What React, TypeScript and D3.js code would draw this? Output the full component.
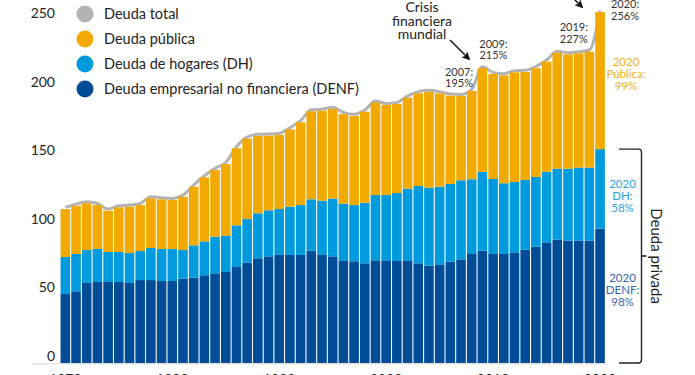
import React from "react";
import * as d3 from "d3";

const years: number[] = d3.range(1970, 2021);

// Deuda empresarial no financiera (DENF), % del PIB
const denf: number[] = [
  50.3, 52.3, 58.4, 59.1, 59.1, 59.1, 58.4, 60.5, 60.5, 59.8,
  59.8, 61.5, 62.2, 64.0, 65.4, 66.4, 70.0, 73.2, 76.4, 77.8,
  78.8, 78.8, 78.8, 81.9, 78.8, 77.8, 74.9, 74.2, 72.7, 74.9,
  74.9, 74.4, 74.4, 72.7, 71.0, 71.5, 73.9, 75.6, 79.5, 81.9,
  79.5, 79.5, 80.7, 82.6, 84.8, 88.0, 89.9, 89.2, 89.2, 89.2,
  98,
];
// Deuda de hogares (DH)
const dh: number[] = [
  27.0, 27.2, 24.0, 24.1, 21.9, 21.9, 21.8, 21.2, 23.4, 23.4,
  23.4, 20.9, 23.6, 24.7, 26.7, 26.5, 30.4, 31.8, 32.8, 33.6,
  33.5, 35.2, 36.4, 37.5, 39.6, 42.1, 41.3, 41.0, 44.2, 47.6,
  47.6, 49.6, 52.7, 56.4, 56.9, 57.1, 56.7, 57.7, 54.5, 57.6,
  54.7, 51.6, 51.3, 50.9, 50.9, 51.5, 51.8, 52.5, 53.3, 53.3,
  58,
];
// Deuda pública
const publica: number[] = [
  35.0, 35.2, 34.1, 32.0, 30.1, 32.5, 33.8, 33.5, 36.2, 36.2,
  35.7, 38.9, 42.8, 46.7, 48.7, 52.2, 56.2, 58.6, 56.4, 54.4,
  54.0, 56.4, 60.4, 64.2, 65.6, 65.4, 65.4, 65.0, 66.4, 67.4,
  65.7, 64.9, 66.4, 67.6, 69.8, 68.1, 64.4, 61.4, 64.4, 75.5,
  76.6, 78.7, 80.0, 78.8, 79.3, 80.3, 84.6, 83.5, 83.4, 84.6,
  100,
];

const yTicks: number[] = [0, 50, 100, 150, 200, 250];
const xTicks: number[] = [1970, 1980, 1990, 2000, 2010, 2020];

const seriesKeys = ["denf", "dh", "publica"] as const;
const seriesColors: Record<string, string> = {
  denf: "#004C97",
  dh: "#009ADE",
  publica: "#F2A900",
};
const legendItems = [
  { label: "Deuda total", color: "#B3B3B3" },
  { label: "Deuda pública", color: "#F2A900" },
  { label: "Deuda de hogares (DH)", color: "#009ADE" },
  { label: "Deuda empresarial no financiera (DENF)", color: "#004C97" },
];

const callouts = [
  { year: 2007, lines: ["2007:", "195%"], dx: -2 },
  { year: 2009, lines: ["2009:", "215%"], dx: 11 },
  { year: 2019, lines: ["2019:", "227%"], dx: -15.5 },
];

const W = 695;
const H = 375;
const FONT = "Lato, 'Noto Sans', sans-serif";

export default function App() {
  const rows = years.map((yr, i) => ({
    year: yr,
    denf: denf[i],
    dh: dh[i],
    publica: publica[i],
    total: denf[i] + dh[i] + publica[i],
  }));

  const x = d3
    .scaleBand<number>()
    .domain(years)
    .range([60, 605.4])
    .paddingInner(0.1)
    .paddingOuter(0.05);
  const y = d3.scaleLinear().domain([0, 250]).range([363, 20.25]);

  const stack = d3.stack<any>().keys(seriesKeys as any);
  const stacked = stack(rows);

  const cx = (yr: number) => (x(yr) as number) + x.bandwidth() / 2;

  const line = d3
    .line<any>()
    .x((d) => cx(d.year))
    .y((d) => y(d.total) - 1.6)
    .curve(d3.curveMonotoneX);

  const last = rows[rows.length - 1];
  const privTop = y(last.denf + last.dh);
  const privBot = y(0);
  const privMid = (privTop + privBot) / 2;
  const bx = 641.5;
  const bLeft = 619;
  const r = 3;

  const calloutY = (yr: number) => {
    const row = rows.find((d) => d.year === yr)!;
    return y(row.total);
  };

  const lastX = cx(2020) + 25;

  return (
    <svg
      width={W}
      height={H}
      style={{ position: "absolute", left: 0, top: 0, fontFamily: FONT }}
    >
      <defs>
        <marker
          id="arrow"
          viewBox="0 0 10 10"
          refX="8"
          refY="5"
          markerWidth="6"
          markerHeight="6"
          orient="auto-start-reverse"
        >
          <path d="M0,0 L10,5 L0,10 L2.5,5 z" fill="#111" />
        </marker>
      </defs>

      {/* baseline */}
      <line x1={32} x2={606} y1={y(0) + 0.8} y2={y(0) + 0.8} stroke="#E2E2E2" strokeWidth={1.5} />

      {/* total line (behind bars) */}
      <path d={line(rows) || ""} fill="none" stroke="#B3B3B3" strokeWidth={3} strokeLinejoin="round" />

      {/* stacked bars */}
      {stacked.map((s) => (
        <g key={s.key} fill={seriesColors[s.key]}>
          {s.map((d: any) => (
            <rect
              key={d.data.year}
              x={x(d.data.year)}
              y={y(d[1])}
              width={x.bandwidth()}
              height={y(d[0]) - y(d[1])}
            />
          ))}
        </g>
      ))}

      {/* y axis labels */}
      {yTicks.map((t) => (
        <text key={t} x={55} y={y(t) - 2} textAnchor="end" fontSize={14} fill="#222">
          {t}
        </text>
      ))}

      {/* x axis labels (mostly cropped) */}
      {xTicks.map((t) => (
        <text key={t} x={cx(t)} y={384} textAnchor="middle" fontSize={14} fill="#222">
          {t}
        </text>
      ))}

      {/* legend */}
      {legendItems.map((it, i) => (
        <g key={it.label} transform={`translate(85, ${14 + i * 25})`}>
          <circle r={8.5} fill={it.color} />
          <text x={19} dy="0.35em" fontSize={14.5} fill="#222">
            {it.label}
          </text>
        </g>
      ))}

      {/* crisis annotation */}
      <g fontSize={14} fill="#222" textAnchor="middle">
        <text x={422} y={12}>Crisis</text>
        <text x={422} y={25.5}>financiera</text>
        <text x={422} y={39}>mundial</text>
      </g>
      <line x1={450} y1={40} x2={469} y2={59} stroke="#111" strokeWidth={1.4} markerEnd="url(#arrow)" />
      <line x1={569} y1={-6} x2={582} y2={7} stroke="#111" strokeWidth={1.4} markerEnd="url(#arrow)" />

      {/* callouts */}
      <g fontSize={11} fill="#333" textAnchor="middle">
        {callouts.map((c) => {
          const ty = calloutY(c.year);
          const xx = cx(c.year) + c.dx;
          return (
            <g key={c.year}>
              <text x={xx} y={ty - 20.5}>{c.lines[0]}</text>
              <text x={xx} y={ty - 9}>{c.lines[1]}</text>
            </g>
          );
        })}
        <text x={lastX} y={8}>2020:</text>
        <text x={lastX} y={19.5}>256%</text>
      </g>

      {/* 2020 component labels */}
      <g fontSize={11.5} textAnchor="middle">
        <g fill="#F5B021">
          <text x={lastX + 1} y={66}>2020</text>
          <text x={lastX + 1} y={78}>Pública:</text>
          <text x={lastX + 1} y={90}>99%</text>
        </g>
        <g fill="#2AA5DF">
          <text x={lastX - 2.5} y={187.5}>2020</text>
          <text x={lastX - 2.5} y={199.5}>DH:</text>
          <text x={lastX - 2.5} y={211.5}>58%</text>
        </g>
        <g fill="#3568B2">
          <text x={lastX - 2.5} y={281.5}>2020</text>
          <text x={lastX - 2.5} y={293.5}>DENF:</text>
          <text x={lastX - 2.5} y={305.5}>98%</text>
        </g>
      </g>

      {/* private debt bracket */}
      <path
        d={`M${bLeft},${privTop} H${bx - r} Q${bx},${privTop} ${bx},${privTop + r} V${privBot - r} Q${bx},${privBot} ${bx - r},${privBot} H${bLeft} M${bx},${privMid} H${bx + 5}`}
        fill="none"
        stroke="#222"
        strokeWidth={1.4}
      />
      <text
        transform={`translate(651, ${privMid}) rotate(90)`}
        textAnchor="middle"
        fontSize={15}
        fill="#222"
      >
        Deuda privada
      </text>
    </svg>
  );
}
